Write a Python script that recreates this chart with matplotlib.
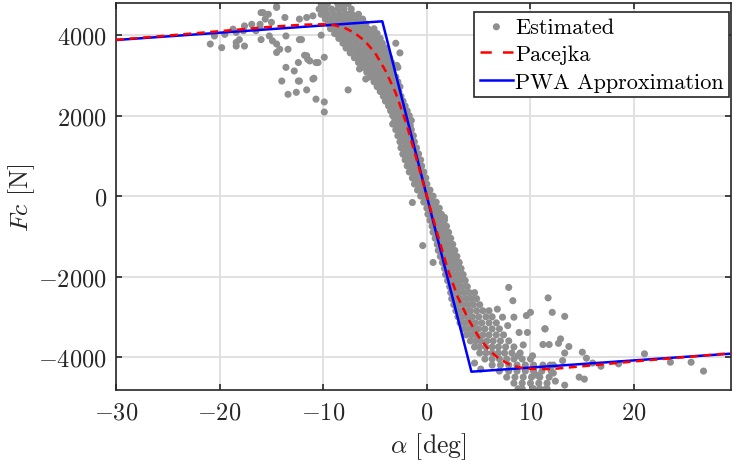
import matplotlib
matplotlib.use("Agg")
import matplotlib.pyplot as plt
from matplotlib.lines import Line2D

plt.rcParams["font.family"] = "serif"
plt.rcParams["font.serif"] = ["cmr10"]
plt.rcParams["mathtext.fontset"] = "cm"
plt.rcParams["axes.formatter.use_mathtext"] = True

# --- data ---
# Pacejka tyre curve
pac_x = [-30, -25, -20, -15, -12, -10, -9, -8, -7, -6, -5, -4, -3, -2, -1, 0,
         1, 2, 3, 4, 5, 6, 7, 8, 9, 10, 12, 15, 20, 25, 30]
pac_y = [3885, 3990, 4100, 4210, 4260, 4272, 4250, 4190, 4060, 3860, 3560, 3120, 2560, 1820, 920, 0,
         -920, -1810, -2520, -3060, -3500, -3830, -4050, -4190, -4260, -4295, -4300, -4230, -4110, -4000, -3890]

# piecewise affine approximation
pwa_x = [-30, -4.3, 4.3, 30]
pwa_y = [3880, 4345, -4365, -3905]

# estimated lateral forces: sparse cloud on the left
left_x = [-16.0, -15.3, -14.5, -15.6, -15.0, -16.1, -13.7, -12.3, -11.6, -11.0, -17.6, -16.9, -17.7,
          -18.4, -20.9, -19.8, -18.4, -17.6, -18.1, -18.4, -16.0, -15.2, -14.9, -14.5, -14.2, -14.5,
          -13.4, -13.6, -12.3, -11.6, -11.3, -10.7, -12.4, -13.6, -12.8, -14.0, -12.3, -11.0, -13.4,
          -12.6, -11.6, -10.7, -20.5, -19.5, -18.7, -16.5, -16.1, -9.9, -9.9, -7.6, -10.5, -9.9,
          -11.5, -11.8, -12.4, -10.9, -10.0, -8.4, -7.5, -10.0, -12.1, -10.2, -15.8, -14.5, -6.5, -5.9]
left_y = [4560, 4520, 4710, 4400, 4320, 4270, 4440, 4400, 4440, 4480, 4230, 4270, 4110,
          4070, 3780, 3690, 3730, 3730, 3890, 3820, 3890, 3980, 3860, 3780, 3650, 3570,
          3650, 3980, 3890, 3490, 3360, 3320, 3320, 3200, 3110, 2860, 2860, 2910, 2530,
          2580, 2640, 2410, 3980, 4020, 4150, 4110, 4190, 2340, 2090, 2640, 3320, 3450,
          3400, 3500, 2860, 2930, 4730, 4770, 4520, 4560, 3890, 4000, 4560, 4690, 3160, 2910]

# sparse cloud on the right
right_x = [7.9, 8.3, 11.7, 12.1, 13.3, 10.0, 9.6, 8.4, 6.8, 7.3, 7.8, 8.9, 9.7, 11.4, 11.2, 11.8,
           12.9, 12.7, 13.7, 9.3, 8.8, 10.2, 13.3, 15.0, 15.4, 16.0, 16.8, 18.5, 21.0, 23.5, 25.5,
           26.7, 14.7, 15.2, 13.3, 11.5, 10.3, 9.2, 12.2, 13.1, 11.4, 12.4, 11.9, 10.6]
right_y = [-2270, -2600, -2530, -2890, -2990, -2890, -2970, -3010, -2810, -3010, -3220, -3390,
           -3390, -3300, -3690, -3690, -3550, -3660, -3740, -3700, -3970, -3970, -3900, -3880,
           -4030, -4150, -4230, -4170, -3920, -4130, -4130, -4350, -4500, -4550, -4700, -4790,
           -4790, -4790, -4400, -4090, -3300, -4600, -4200, -4450]

# stray points next to the steep part
stray_x = [-3.0, -2.9, -2.6, -3.3, -2.3, -1.4, -0.4, 0.6, 2.2, 1.7, 3.1, 3.5, 5.2, 4.6]
stray_y = [3800, 3250, 3560, 1790, 1040, -160, -1230, -1650, -1150, -530, -1650, -2060, -4300, -4150]

# dense band: force levels and the slip angles seen on each level
band_y = [4780, 4650, 4520, 4400, 4280, 4160, 4040, 3920, 3800, 3680, 3560, 3440, 3320, 3200,
          3080, 2960, 2840, 2720, 2600, 2480, 2360, 2240, 2120, 2000, 1880, 1760,
          1650, 1500, 1350, 1200, 1050, 900, 750, 600, 450, 300, 150, 0,
          -150, -300, -450, -600, -750, -900, -1050, -1200, -1350, -1500, -1650,
          -1800, -1950, -2100, -2250, -2400, -2550, -2700, -2850, -3000, -3150, -3300,
          -3450, -3600, -3750, -3900, -4050, -4200, -4350, -4500, -4650, -4790]
band_x = [
    [-10.2, -9.6, -8.6, -8.1, -7.6],
    [-10.4, -9.8, -9.2, -8.6, -8.0, -7.3],
    [-10.2, -9.6, -9.0, -8.4, -7.8, -7.2, -6.6],
    [-9.8, -9.2, -8.6, -8.0, -7.4, -6.8, -6.2],
    [-9.5, -8.9, -8.3, -7.7, -7.1, -6.5, -5.9],
    [-9.3, -8.7, -8.1, -7.5, -6.9, -6.3, -5.7, -5.1],
    [-8.9, -8.3, -7.7, -7.1, -6.5, -5.9, -5.3, -4.8],
    [-8.5, -7.9, -7.3, -6.7, -6.1, -5.6, -5.0, -4.5],
    [-8.1, -7.5, -6.9, -6.3, -5.8, -5.3, -4.8, -4.3],
    [-7.8, -7.2, -6.6, -6.0, -5.5, -5.0, -4.5, -4.0],
    [-7.4, -6.8, -6.3, -5.8, -5.3, -4.8, -4.3, -3.8],
    [-7.0, -6.5, -6.0, -5.5, -5.0, -4.5, -4.0, -3.6],
    [-6.6, -6.1, -5.6, -5.1, -4.7, -4.2, -3.8, -3.4],
    [-6.2, -5.7, -5.3, -4.8, -4.4, -4.0, -3.6, -3.2, -2.8],
    [-5.8, -5.4, -4.9, -4.5, -4.1, -3.7, -3.3],
    [-5.5, -5.0, -4.6, -4.2, -3.8, -3.4, -3.0],
    [-5.1, -4.7, -4.3, -3.9, -3.5, -3.1, -2.8],
    [-4.8, -4.4, -4.0, -3.6, -3.3, -2.9, -2.6],
    [-4.5, -4.1, -3.7, -3.4, -3.0, -2.7],
    [-4.2, -3.8, -3.5, -3.1, -2.8, -2.5],
    [-4.0, -3.6, -3.2, -2.9, -2.6, -2.3],
    [-3.7, -3.4, -3.0, -2.7, -2.4, -2.1],
    [-3.5, -3.1, -2.8, -2.5, -2.2, -1.9],
    [-3.3, -2.9, -2.6, -2.3, -2.0, -1.7],
    [-3.1, -2.7, -2.4, -2.1, -1.8, -1.5],
    [-2.9, -2.5, -2.2, -1.9, -1.6],
    [-3.0, -2.6, -2.2, -1.9, -1.5],
    [-2.8, -2.4, -2.0, -1.7, -1.3],
    [-2.6, -2.2, -1.9, -1.5, -1.2],
    [-2.5, -2.1, -1.7, -1.3, -1.0],
    [-2.3, -1.9, -1.5, -1.2, -0.8],
    [-2.1, -1.7, -1.3, -1.0, -0.6],
    [-1.9, -1.5, -1.1, -0.8, -0.5],
    [-1.7, -1.3, -1.0, -0.6, -0.3],
    [-1.4, -1.1, -0.8, -0.4, -0.1],
    [-1.2, -0.9, -0.6, -0.3, 0.0],
    [-0.9, -0.6, -0.3, 0.0, 0.3],
    [-0.6, -0.3, 0.0, 0.3, 0.6],
    [-0.3, 0.0, 0.3, 0.6, 0.9],
    [0.0, 0.3, 0.6, 0.9, 1.2],
    [0.1, 0.5, 0.8, 1.1, 1.4],
    [0.3, 0.6, 1.0, 1.3, 1.7],
    [0.5, 0.8, 1.1, 1.5, 1.9],
    [0.6, 1.0, 1.3, 1.7, 2.1],
    [0.8, 1.2, 1.5, 1.9, 2.3],
    [1.0, 1.3, 1.7, 2.1, 2.5],
    [1.1, 1.5, 1.9, 2.3, 2.7],
    [1.3, 1.7, 2.1, 2.5, 2.9],
    [1.5, 1.9, 2.3, 2.7, 3.1],
    [1.7, 2.1, 2.5, 2.9, 3.3],
    [1.8, 2.2, 2.6, 3.0, 3.5],
    [2.0, 2.4, 2.8, 3.2, 3.7],
    [2.2, 2.6, 3.0, 3.4, 3.9],
    [2.3, 2.7, 3.1, 3.6, 4.1, 4.6],
    [2.4, 2.9, 3.3, 3.8, 4.3, 4.8],
    [2.6, 3.0, 3.5, 4.0, 4.5, 5.1],
    [2.8, 3.2, 3.7, 4.2, 4.8, 5.4, 6.0],
    [3.0, 3.4, 3.9, 4.4, 5.0, 5.7, 6.3],
    [3.2, 3.7, 4.2, 4.7, 5.3, 6.0, 6.7],
    [3.5, 4.0, 4.5, 5.0, 5.6, 6.3, 7.0],
    [3.8, 4.3, 4.8, 5.4, 6.0, 6.7, 7.4],
    [4.2, 4.7, 5.2, 5.8, 6.4, 7.1, 7.9],
    [4.6, 5.1, 5.7, 6.3, 6.9, 7.6, 8.4],
    [5.1, 5.7, 6.3, 6.9, 7.5, 8.2, 9.0],
    [5.6, 6.3, 7.0, 7.7, 8.4, 9.2, 10.0],
    [6.3, 7.1, 7.9, 8.7, 9.5, 10.3, 11.2, 12.2],
    [7.0, 7.9, 8.7, 9.5, 10.3, 11.1, 12.0],
    [7.7, 8.5, 9.3, 10.1, 10.9, 11.8],
    [8.4, 9.2, 10.0, 10.8, 11.6],
    [8.8, 10.2, 10.9, 11.6],
]

est_x = left_x + right_x + stray_x + [a for row in band_x for a in row]
est_y = left_y + right_y + stray_y + [f for f, row in zip(band_y, band_x) for _ in row]

fig = plt.figure(figsize=(7.32, 4.64), dpi=100)
ax = fig.add_axes([116 / 732, 1 - 391 / 464, 615 / 732, 387 / 464])

sc = ax.scatter(est_x, est_y, s=26, color="#8f8f8f", edgecolors="none", zorder=2)
pwa_line, = ax.plot(pwa_x, pwa_y, color="#0000ff", lw=1.8, zorder=3)
pac_line, = ax.plot(pac_x, pac_y, color="#ff0000", lw=1.8, dashes=(3.2, 2.2), zorder=4)

ax.set_xlim(-30, 29.35)
ax.set_ylim(-4820, 4800)
ax.set_xticks([-30, -20, -10, 0, 10, 20])
ax.set_yticks([-4000, -2000, 0, 2000, 4000])
ax.grid(True, color="#dedede", lw=1.3)
ax.set_axisbelow(True)

for sp in ax.spines.values():
    sp.set_color("#262626")
    sp.set_linewidth(1.2)
ax.tick_params(direction="in", length=4, width=1.2, color="#262626",
               labelsize=17.5, labelcolor="#262626", top=True, right=True)
ax.tick_params(axis="x", pad=8.3)
ax.tick_params(axis="y", pad=6.5)

ax.set_xlabel(r"$\alpha$ [deg]", fontsize=18.5, color="#262626")
ax.set_ylabel(r"$Fc$ [N]", fontsize=18.5, color="#262626")
ax.xaxis.set_label_coords(0.508, -0.104)
ax.yaxis.set_label_coords(-0.129, 0.5)

# legend proxy for the dashed line (wider dashes, as in the reference legend)
pac_key = Line2D([], [], color="#ff0000", lw=1.8, dashes=(4.5, 4.5))
leg = ax.legend([sc, pac_key, pwa_line], ["Estimated", "Pacejka", "PWA Approximation"],
                loc="upper right", bbox_to_anchor=(729 / 732, 1 - 12.5 / 464),
                bbox_transform=fig.transFigure, borderaxespad=0, fontsize=16.0,
                fancybox=False, framealpha=1, edgecolor="#262626", scatterpoints=1,
                handlelength=1.5, handletextpad=0.08, borderpad=0.25, labelspacing=0.36)
leg.get_frame().set_linewidth(1.2)

fig.savefig("out.png", dpi=100)
